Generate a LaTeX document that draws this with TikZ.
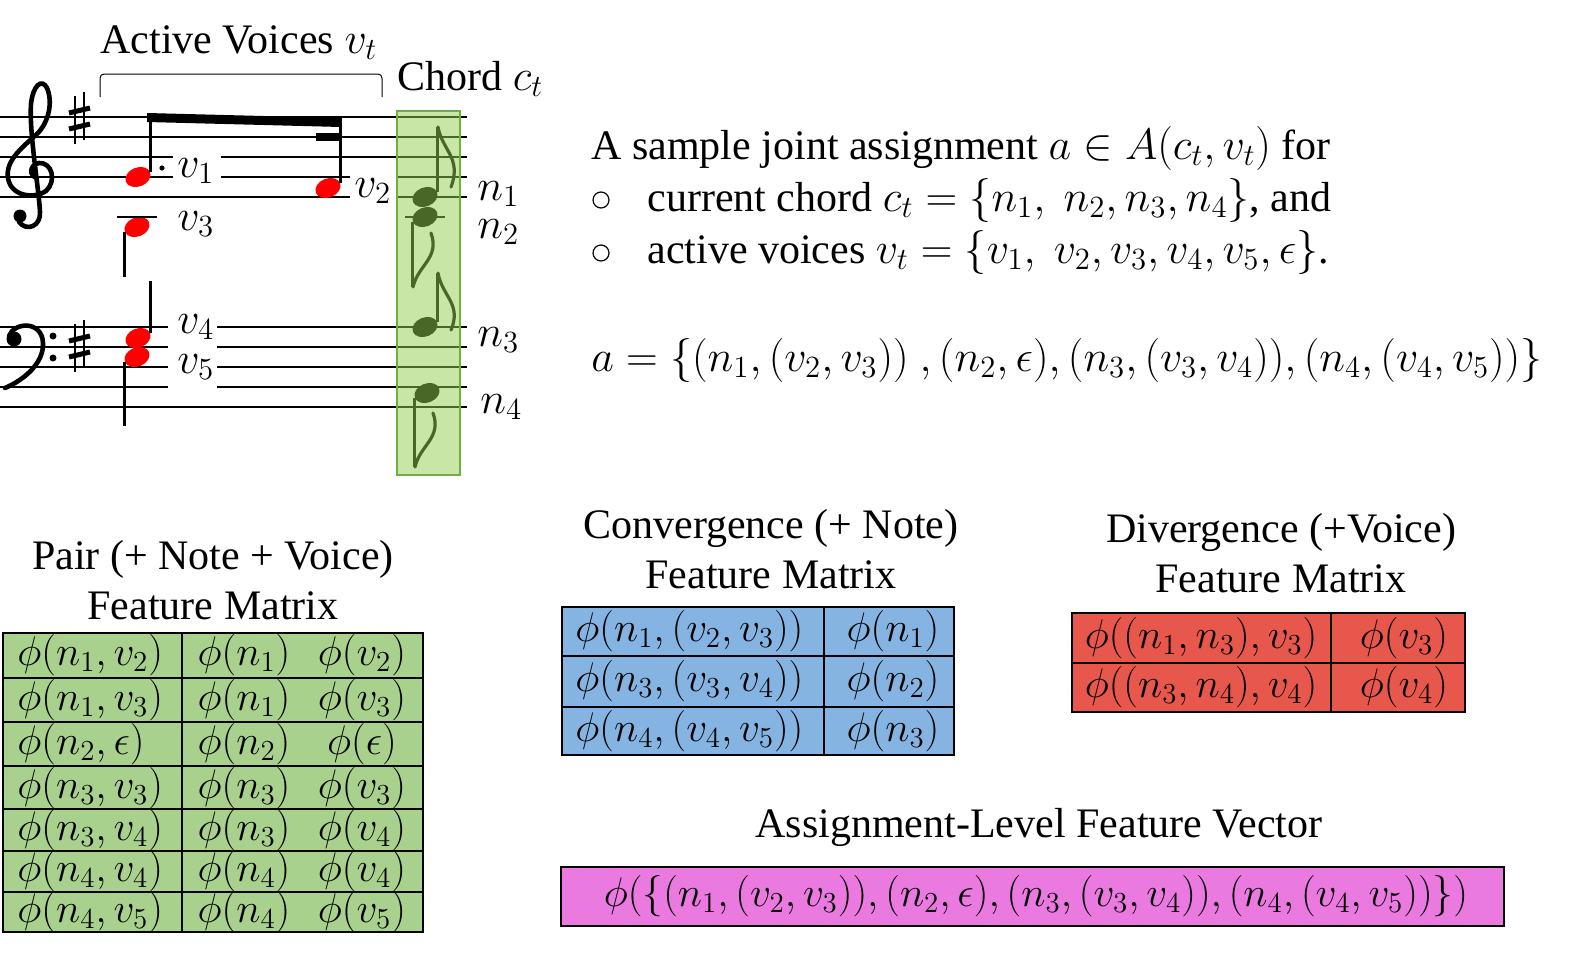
\documentclass[tikz,border=0pt]{standalone}
\usepackage{fix-cm}
\usepackage{fontspec}
\setmainfont{Liberation Serif}
\usetikzlibrary{shapes.geometric}
\definecolor{pairgreen}{HTML}{A9D18E}
\definecolor{convblue}{HTML}{85B4E2}
\definecolor{divred}{HTML}{E8574B}
\definecolor{vecpink}{HTML}{EA7ADF}
\definecolor{chordfill}{HTML}{92D050}
\definecolor{chordedge}{HTML}{70AD47}
\newcommand{\mth}[1]{{\fontsize{22}{26}\selectfont$#1$}}
\tikzset{
  staffline/.style = {line width=0.75pt},
  notestem/.style  = {line width=1.1pt},
  head/.style      = {ellipse, fill=#1, inner sep=0pt, minimum width=13pt,
                      minimum height=9.5pt, rotate=22},
  head/.default    = black,
  flagline/.style  = {line width=1.6pt, line cap=round},
  clefline/.style  = {line width=2.3pt, line cap=round},
  bigtxt/.style    = {font=\fontsize{21}{25}\selectfont, inner sep=0pt},
  vlbl/.style      = {bigtxt, anchor=base west},
  mlbl/.style      = {font=\fontsize{22}{26}\selectfont, inner sep=0pt, anchor=base west},
  cell/.style      = {font=\fontsize{20.7}{24}\selectfont, inner sep=0pt},
  tblline/.style   = {line width=0.7pt},
  hollowdot/.style = {circle, draw, line width=0.6pt, inner sep=0pt, minimum size=8pt},
}

\begin{document}
\begin{tikzpicture}[x=0.5pt,y=-0.5pt]
  \useasboundingbox (0,0) rectangle (1577,953);

  % staff lines, broken where the voice labels sit
  \foreach \y/\a/\b in {117/0/467, 137/0/467, 157/0/173, 157/221/467,
      177/0/173, 177/221/350, 177/397/467, 197/0/350, 197/397/467,
      327/0/168, 327/217/467, 347/0/168, 347/217/467, 367/0/168, 367/217/467,
      387/0/168, 387/217/467, 407/0/467}
    \draw[staffline] (\a,\y) -- (\b,\y);

  % treble clef
  \draw[clefline] (37,178) .. controls (29,176) and (29,165) .. (39,163)
    .. controls (52,162) and (57,181) .. (46,191)
    .. controls (35,199) and (11,197) .. (8,178)
    .. controls (5,160) and (24,146) .. (37,134)
    .. controls (49,122) and (53,102) .. (47,88)
    .. controls (42,78) and (33,85) .. (31,104)
    .. controls (29,132) and (39,190) .. (40,212)
    .. controls (41,226) and (27,232) .. (19,222);
  \fill (20,216) circle[radius=6.5];

  % bass clef
  \fill (14,339) circle[radius=7.5];
  \draw[clefline] (9,336) .. controls (14,322) and (42,320) .. (43,343)
    .. controls (44,363) and (24,380) .. (5,388);
  \fill (53,336) circle[radius=3.5];
  \fill (53,358) circle[radius=3.5];

  % key signatures
  \foreach \sy in {118,346} {
    \draw[notestem] (75,\sy-22) -- (75,\sy+26);
    \draw[notestem] (84,\sy-26) -- (84,\sy+22);
    \draw[line width=2.5pt] (69,\sy-5) -- (90,\sy-10);
    \draw[line width=2.5pt] (69,\sy+11) -- (90,\sy+6);
  }

  % active voices
  \node[head=red] (v1head) at (138,177) {};
  \node[head=red] (v2head) at (328,188) {};
  \node[head=red] (v3head) at (137,227) {};
  \node[head=red] (v4head) at (138,338) {};
  \node[head=red] (v5head) at (137,357) {};
  \coordinate (beamL) at (149,113);
  \coordinate (beamR) at (340,118);
  \fill (147,113) -- (341,118) -- (341,127) -- (147,122) -- cycle;
  \fill (316,133) rectangle (340,141);
  \draw[notestem] (v1head.east) -- (v1head.east |- beamL);
  \draw[notestem] (v2head.east) -- (v2head.east |- beamR);
  \fill (162,168) circle[radius=2.6];
  \draw[notestem] (117,217) -- (157,217);
  \draw[notestem] (v3head.west) -- ++(0,45);
  \draw[notestem] (v4head.east) -- ++(0,-52);
  \draw[notestem] (v5head.west) -- ++(0,64);

  % chord notes
  \node[head] (n1head) at (425,197) {};
  \node[head] (n2head) at (425,217) {};
  \node[head] (n3head) at (425,327) {};
  \node[head] (n4head) at (427,393) {};
  \draw[notestem] (405,217) -- (445,217);
  \draw[notestem] (n1head.east) -- (n1head.east |- 0,127);
  \draw[notestem] (n2head.west) -- (n2head.west |- 0,287);
  \draw[notestem] (n3head.east) -- (n3head.east |- 0,273);
  \draw[notestem] (n4head.west) -- (n4head.west |- 0,467);
  \draw[flagline] (438,127) .. controls (442,150) and (462,158) .. (451,187);
  \draw[flagline] (413,287) .. controls (418,265) and (440,258) .. (431,233);
  \draw[flagline] (438,273) .. controls (442,296) and (462,304) .. (451,330);
  \draw[flagline] (415,467) .. controls (420,445) and (442,438) .. (433,413);
  \fill[chordfill, fill opacity=0.5] (397,111) rectangle (460,475);
  \draw[chordedge, line width=1pt] (397,111) rectangle (460,475);

  % labels
  \node[vlbl] (voicestitle) at (100,53) {Active Voices \mth{v_t}};
  \draw[line width=0.5pt, rounded corners=2pt] (100,97) -- (100,74) -- (382,74) -- (382,97);
  \node[vlbl] (chordtitle) at (397,90) {Chord \mth{c_t}};
  \node[mlbl] (v1lbl) at (177,177) {$v_1$};
  \node[mlbl] (v2lbl) at (354,197) {$v_2$};
  \node[mlbl] (v3lbl) at (177,230) {$v_3$};
  \node[mlbl] (v4lbl) at (177,333) {$v_4$};
  \node[mlbl] (v5lbl) at (177,373) {$v_5$};
  \node[mlbl] (n1lbl) at (477,200) {$n_1$};
  \node[mlbl] (n2lbl) at (477,238) {$n_2$};
  \node[mlbl] (n3lbl) at (477,346) {$n_3$};
  \node[mlbl] (n4lbl) at (480,413) {$n_4$};

  % sample assignment
  \node[vlbl] (intro) at (591,159) {A sample joint assignment \mth{a \in A(c_t, v_t)} for};
  \node[hollowdot] (dotA) at (601,200) {};
  \node[vlbl] (chordset) at (647,211) {current chord \mth{c_t = \{n_1,\ n_2, n_3, n_4\}}, and};
  \node[hollowdot] (dotB) at (601,253) {};
  \node[vlbl] (voiceset) at (647,263) {active voices \mth{v_t = \{v_1,\ v_2, v_3, v_4, v_5, \epsilon\}}.};
  \node[vlbl] (assign) at (591,371) {\mth{a = \{(n_1,(v_2,v_3))\ ,(n_2,\epsilon),(n_3,(v_3,v_4)),(n_4,(v_4,v_5))\}}};

  % pair feature matrix
  \node[bigtxt, align=center] (pairtitle) at (213,580) {Pair (+ Note + Voice)\\Feature Matrix};
  \fill[pairgreen] (3,633) rectangle (423,932);
  \foreach \y in {678,722,766,809,851,892}
    \draw[tblline] (3,\y) -- (423,\y);
  \draw[tblline] (182,633) -- (182,932);
  \draw[tblline] (3,633) rectangle (423,932);
  \foreach \pr/\nn/\vv/\y [count=\i] in {{n_1,v_2}/n_1/v_2/655, {n_1,v_3}/n_1/v_3/700,
      {n_2,\epsilon}/n_2/\epsilon/744, {n_3,v_3}/n_3/v_3/788, {n_3,v_4}/n_3/v_4/830,
      {n_4,v_4}/n_4/v_4/871, {n_4,v_5}/n_4/v_5/912} {
    \node[cell, anchor=west] (pairP\i) at (17,\y) {$\phi(\pr)$};
    \node[cell] (pairN\i) at (244,\y) {$\phi(\nn)$};
    \node[cell] (pairV\i) at (362,\y) {$\phi(\vv)$};
  }

  % convergence feature matrix
  \node[bigtxt, align=center] (convtitle) at (771,549) {Convergence (+ Note)\\Feature Matrix};
  \fill[convblue] (562,607) rectangle (954,755);
  \foreach \y in {656,707}
    \draw[tblline] (562,\y) -- (954,\y);
  \draw[tblline] (824,607) -- (824,755);
  \draw[tblline] (562,607) rectangle (954,755);
  \foreach \pr/\nn/\y [count=\i] in {{n_1,(v_2,v_3)}/n_1/631, {n_3,(v_3,v_4)}/n_2/681,
      {n_4,(v_4,v_5)}/n_3/731} {
    \node[cell, anchor=west] (convP\i) at (575,\y) {$\phi(\pr)$};
    \node[cell] (convN\i) at (893,\y) {$\phi(\nn)$};
  }

  % divergence feature matrix
  \node[bigtxt, align=center] (divtitle) at (1281,553) {Divergence (+Voice)\\Feature Matrix};
  \fill[divred] (1072,613) rectangle (1465,712);
  \draw[tblline] (1072,663) -- (1465,663);
  \draw[tblline] (1331,613) -- (1331,712);
  \draw[tblline] (1072,613) rectangle (1465,712);
  \foreach \pr/\vv/\y [count=\i] in {{(n_1,n_3),v_3}/v_3/638, {(n_3,n_4),v_4}/v_4/687} {
    \node[cell] (divP\i) at (1201,\y) {$\phi(\pr)$};
    \node[cell] (divV\i) at (1404,\y) {$\phi(\vv)$};
  }

  % assignment-level vector
  \node[bigtxt] (vectitle) at (1039,827) {Assignment-Level Feature Vector};
  \fill[vecpink] (561,867) rectangle (1504,926);
  \draw[tblline] (561,867) rectangle (1504,926);
  \node[cell] (vecval) at (1036,896) {$\phi\bigl(\bigl\{\bigl(n_1,(v_2,v_3)\bigr),(n_2,\epsilon),\bigl(n_3,(v_3,v_4)\bigr),\bigl(n_4,(v_4,v_5)\bigr)\bigr\}\bigr)$};
\end{tikzpicture}
\end{document}
